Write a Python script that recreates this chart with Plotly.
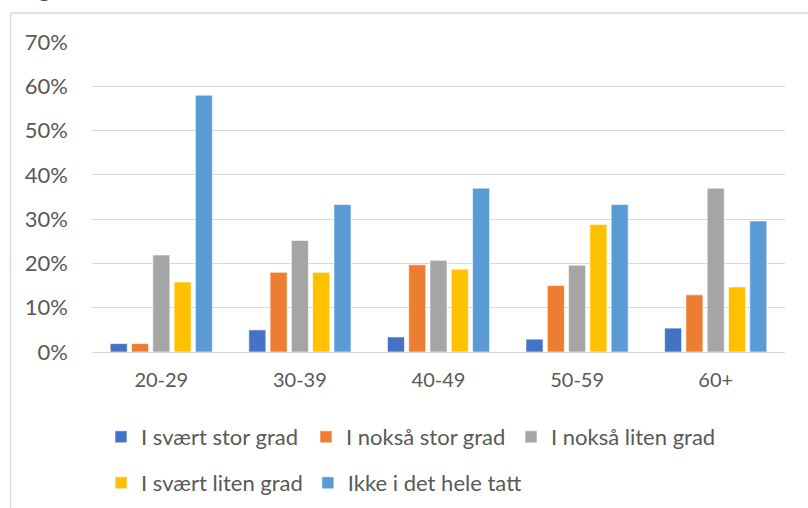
import plotly.graph_objects as go

# Age groups and share of respondents per answer category
age_groups = ["20-29", "30-39", "40-49", "50-59", "60+"]
series_names = [
    "I svært stor grad",
    "I nokså stor grad",
    "I nokså liten grad",
    "I svært liten grad",
    "Ikke i det hele tatt",
]
svaert_stor = [0.019, 0.050, 0.034, 0.029, 0.054]
noksaa_stor = [0.019, 0.180, 0.197, 0.150, 0.129]
noksaa_liten = [0.219, 0.252, 0.207, 0.196, 0.370]
svaert_liten = [0.158, 0.180, 0.187, 0.288, 0.147]
ikke_i_det_hele = [0.580, 0.333, 0.370, 0.333, 0.296]

series_values = [svaert_stor, noksaa_stor, noksaa_liten, svaert_liten, ikke_i_det_hele]
series_colors = ["#4472C4", "#ED7D31", "#A5A5A5", "#FFC000", "#5B9BD5"]

y_ticks = [0, 0.1, 0.2, 0.3, 0.4, 0.5, 0.6, 0.7]
y_tick_labels = ["0%", "10%", "20%", "30%", "40%", "50%", "60%", "70%"]

W, H = 808, 508
L, R, T, B = 92, 23, 42, 156
PW, PH = W - L - R, H - T - B

FONT = "Lato"
TEXT_COLOR = "#595959"
GRID_COLOR = "#D9D9D9"


def px_x(px):
    return (px - L) / PW


def px_y(py):
    return (H - B - py) / PH


def cont_x(px):
    return px / W


def cont_y(py):
    return 1 - py / H


fig = go.Figure()
for i, (name, vals, col) in enumerate(zip(series_names, series_values, series_colors)):
    fig.add_trace(
        go.Bar(
            x=age_groups,
            y=vals,
            name=name,
            marker=dict(color=col, line=dict(color="white", width=0.6)),
            legend="legend" if i < 3 else "legend2",
            hoverinfo="skip",
        )
    )

legend_common = dict(
    orientation="h",
    xref="container",
    yref="container",
    xanchor="left",
    yanchor="middle",
    font=dict(family=FONT, size=22, color=TEXT_COLOR),
    bgcolor="rgba(0,0,0,0)",
    itemclick=False,
    itemdoubleclick=False,
    traceorder="normal",
)

fig.update_layout(
    width=W,
    height=H,
    margin=dict(l=L, r=R, t=T, b=B, pad=0, autoexpand=False),
    paper_bgcolor="white",
    plot_bgcolor="white",
    barmode="group",
    bargap=0.232,
    bargroupgap=0.2,
    font=dict(family=FONT, size=20, color=TEXT_COLOR),
    legend=dict(legend_common, x=cont_x(101), y=cont_y(437), entrywidth=160),
    legend2=dict(legend_common, x=cont_x(101), y=cont_y(483), entrywidth=0),
    xaxis=dict(
        showgrid=False,
        showline=False,
        ticks="",
        ticklabelstandoff=14,
        tickfont=dict(family=FONT, size=20, color=TEXT_COLOR),
        fixedrange=True,
    ),
    yaxis=dict(
        range=[0, 0.7],
        tickvals=y_ticks,
        ticktext=y_tick_labels,
        showgrid=True,
        gridcolor=GRID_COLOR,
        gridwidth=1.4,
        zeroline=True,
        zerolinecolor=GRID_COLOR,
        zerolinewidth=1.4,
        showline=False,
        ticks="",
        ticklabelstandoff=23,
        tickfont=dict(family=FONT, size=22, color=TEXT_COLOR),
        fixedrange=True,
    ),
    shapes=[
        # chart frame (left and top edges)
        dict(type="line", xref="paper", yref="paper",
             x0=px_x(10.5), x1=px_x(10.5), y0=px_y(13), y1=px_y(H + 5),
             line=dict(color=GRID_COLOR, width=1.5), layer="below"),
        dict(type="line", xref="paper", yref="paper",
             x0=px_x(10.5), x1=px_x(W + 5), y0=px_y(13), y1=px_y(13),
             line=dict(color=GRID_COLOR, width=1.5), layer="below"),
    ],
    annotations=[
        dict(text="g", xref="paper", yref="paper", x=px_x(36), y=px_y(4),
             xanchor="left", yanchor="bottom", showarrow=False,
             font=dict(family=FONT, size=26, color="#3E4C6C")),
    ],
    showlegend=True,
)

fig.write_html("out.html")
